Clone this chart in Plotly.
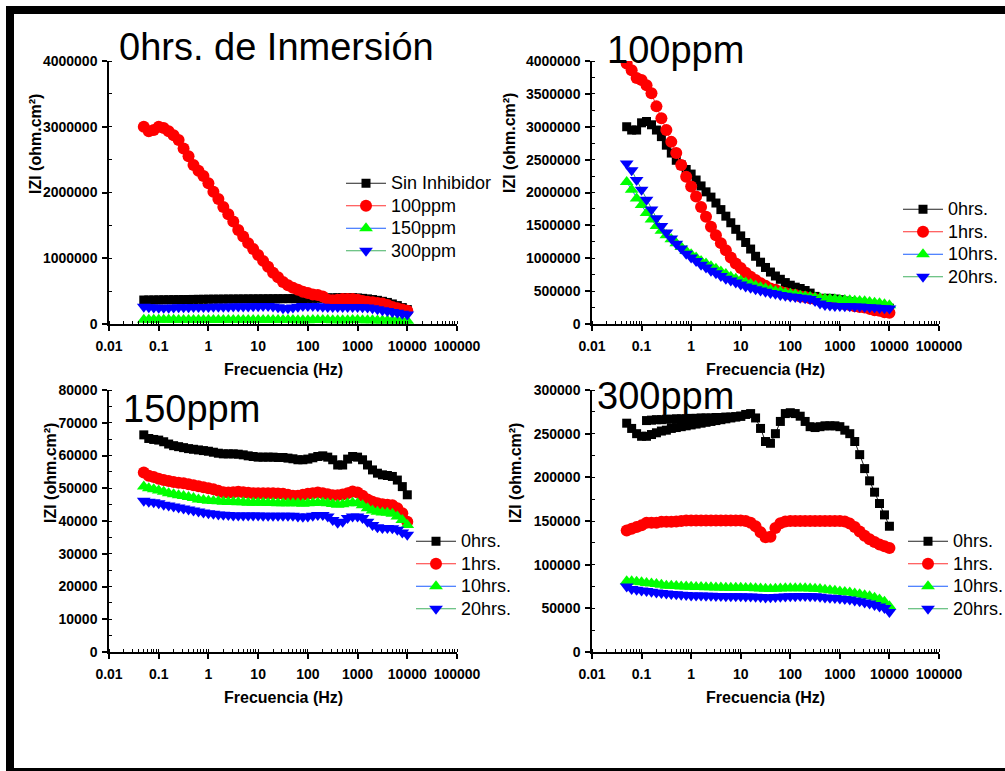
import plotly.graph_objects as go

W, H = 1005, 771

# ---------------- data ----------------
freq = [0.0501, 0.0631, 0.0794, 0.1, 0.1259, 0.1585, 0.1995, 0.2512, 0.3162, 0.3981,
        0.5012, 0.631, 0.7943, 1.0, 1.259, 1.585, 1.995, 2.512, 3.162, 3.981,
        5.012, 6.31, 7.943, 10.0, 12.59, 15.85, 19.95, 25.12, 31.62, 39.81,
        50.12, 63.1, 79.43, 100.0, 125.9, 158.5, 199.5, 251.2, 316.2, 398.1,
        501.2, 631.0, 794.3, 1000.0, 1259, 1585, 1995, 2512, 3162, 3981,
        5012, 6310, 7943, 10000]

x_tick_vals = [0.01, 0.1, 1, 10, 100, 1000, 10000, 100000]
x_tick_text = ["0.01", "0.1", "1", "10", "100", "1000", "10000", "100000"]

# Panel 1: 0 hrs de inmersion
p1_sin_inhibidor = [365000, 365000, 366000, 367000, 368000, 369000, 370000, 371000, 372000, 373000,
                    374000, 375000, 376000, 377000, 378000, 378000, 379000, 380000, 380000, 381000,
                    381000, 382000, 382000, 383000, 383000, 384000, 384000, 385000, 385000, 386000,
                    386000, 387000, 388000, 389000, 390000, 392000, 394000, 396000, 398000, 400000,
                    401000, 402000, 400000, 396000, 390000, 382000, 372000, 360000, 345000, 328000,
                    305000, 280000, 250000, 220000]
p1_100ppm = [3000000, 2930000, 2950000, 3000000, 2980000, 2930000, 2870000, 2800000, 2670000, 2550000,
             2420000, 2330000, 2250000, 2140000, 2010000, 1900000, 1780000, 1670000, 1560000, 1430000,
             1330000, 1230000, 1140000, 1050000, 960000, 870000, 780000, 710000, 640000, 590000,
             550000, 520000, 490000, 470000, 450000, 440000, 420000, 370000, 360000, 370000,
             380000, 380000, 380000, 370000, 350000, 340000, 330000, 320000, 310000, 290000,
             260000, 240000, 220000, 200000]

# Panel 2: 100 ppm
p2_0h = [3000000, 2950000, 2950000, 3060000, 3080000, 3030000, 2950000, 2850000, 2720000, 2600000,
         2490000, 2420000, 2350000, 2280000, 2190000, 2100000, 2010000, 1930000, 1840000, 1740000,
         1640000, 1540000, 1440000, 1340000, 1240000, 1140000, 1030000, 940000, 860000, 790000,
         730000, 680000, 630000, 590000, 560000, 540000, 510000, 470000, 420000, 390000,
         390000, 390000, 380000, 370000, 350000, 340000, 330000, 310000, 300000, 290000,
         270000, 260000, 250000, 240000]
p2_1h = [3960000, 3860000, 3740000, 3710000, 3630000, 3510000, 3310000, 3130000, 2950000, 2770000,
         2600000, 2420000, 2240000, 2090000, 1940000, 1780000, 1630000, 1480000, 1350000, 1230000,
         1120000, 1010000, 920000, 850000, 780000, 720000, 670000, 620000, 580000, 540000,
         520000, 490000, 470000, 450000, 440000, 420000, 410000, 390000, 380000, 370000,
         350000, 340000, 320000, 310000, 300000, 290000, 270000, 260000, 250000, 230000,
         210000, 200000, 180000, 170000]
p2_10h = [2160000, 2040000, 1910000, 1810000, 1690000, 1590000, 1490000, 1420000, 1350000, 1290000,
          1230000, 1170000, 1110000, 1060000, 1010000, 960000, 920000, 880000, 840000, 800000,
          760000, 720000, 690000, 660000, 630000, 610000, 580000, 560000, 540000, 520000,
          500000, 490000, 470000, 460000, 450000, 430000, 420000, 410000, 400000, 390000,
          385000, 380000, 375000, 370000, 365000, 360000, 355000, 350000, 345000, 335000,
          325000, 315000, 300000, 285000]
p2_20h = [2440000, 2340000, 2190000, 2040000, 1890000, 1740000, 1610000, 1490000, 1390000, 1300000,
          1220000, 1150000, 1070000, 1010000, 960000, 900000, 860000, 810000, 770000, 730000,
          690000, 660000, 630000, 600000, 570000, 550000, 530000, 510000, 490000, 470000,
          460000, 440000, 430000, 420000, 410000, 400000, 390000, 380000, 350000, 310000,
          290000, 280000, 275000, 272000, 270000, 270000, 268000, 265000, 260000, 255000,
          250000, 245000, 240000, 235000]

# Panel 3: 150 ppm
p3_0h = [66300, 65200, 64900, 64700, 64200, 63500, 63000, 62700, 62400, 62100,
         61900, 61700, 61500, 61300, 61000, 60700, 60500, 60500, 60500, 60400,
         60200, 59900, 59700, 59500, 59500, 59500, 59500, 59400, 59400, 59200,
         59000, 58700, 58700, 58900, 59300, 59700, 59900, 59500, 58700, 57100,
         57100, 58900, 59700, 59500, 58700, 57100, 55600, 54600, 54100, 53900,
         53600, 52500, 50500, 48000]
p3_1h = [54800, 53800, 53400, 52900, 52500, 52200, 51900, 51700, 51500, 51200,
         50900, 50600, 50300, 50000, 49700, 49200, 48800, 48700, 48800, 48900,
         48800, 48600, 48500, 48500, 48500, 48500, 48500, 48400, 48300, 48000,
         47700, 47700, 48000, 48300, 48500, 48700, 48500, 48200, 47900, 47900,
         48100, 48500, 49000, 48700, 47700, 46600, 45900, 45400, 45100, 45000,
         44800, 43900, 42400, 39800]
p3_10h = [50500, 50000, 49700, 49300, 48900, 48500, 48200, 47900, 47600, 47300,
          47000, 46600, 46400, 46200, 46100, 46000, 45900, 45800, 45800, 45700,
          45700, 45600, 45600, 45600, 45600, 45500, 45500, 45400, 45400, 45400,
          45400, 45400, 45300, 45400, 45500, 45600, 45600, 45400, 45200, 45000,
          45100, 45400, 45600, 45400, 44800, 43900, 43200, 42800, 42600, 42500,
          42200, 41400, 40300, 38800]
p3_20h = [46200, 45900, 45700, 45400, 45000, 44700, 44400, 44100, 43800, 43500,
          43200, 42900, 42600, 42400, 42200, 42000, 41900, 41800, 41700, 41700,
          41700, 41700, 41700, 41700, 41600, 41600, 41600, 41600, 41600, 41600,
          41600, 41400, 41300, 41400, 41600, 41800, 41800, 41400, 40300, 39500,
          39800, 40900, 41400, 41400, 40900, 39800, 38800, 38100, 37900, 37900,
          37800, 37300, 36500, 35800]

# Panel 4: 300 ppm
p4_0h = [262000, 256000, 250000, 247000, 247000, 249000, 251000, 253000, 254000, 256000,
         257000, 258000, 259000, 260000, 261000, 262000, 263000, 264000, 265000, 266000,
         267000, 268000, 269000, 270000, 272000, 273000, 268000, 256000, 241000, 239000,
         250000, 264000, 273000, 274000, 273000, 270000, 264000, 258000, 257000, 258000,
         259000, 259000, 259000, 258000, 254000, 250000, 241000, 226000, 210000, 196000,
         183000, 170000, 157000, 144000]
p4_0h_extra_freq = [0.1259, 0.1585, 0.1995, 0.2512, 0.3162, 0.3981, 0.5012, 0.631, 0.7943, 1.0,
                    1.259, 1.585, 1.995, 2.512, 3.162, 3.981, 5.012, 6.31, 7.943, 10.0]
p4_0h_extra = [265000, 265500, 266000, 266000, 266500, 266500, 267000, 267000, 267000, 267500,
               267500, 268000, 268000, 268000, 268500, 268500, 269000, 269000, 269500, 270000]
p4_1h = [139000, 141000, 143000, 145000, 148000, 148000, 148000, 149000, 149000, 149000,
         149500, 150000, 150500, 150500, 150500, 150500, 150500, 150500, 150500, 150500,
         150500, 150500, 150500, 150500, 150000, 148000, 144000, 137000, 131500, 132000,
         142000, 147500, 149500, 150000, 150000, 150000, 150000, 150000, 150000, 150000,
         150000, 150000, 150000, 150000, 149500, 147000, 143000, 138000, 133000, 129000,
         126000, 123000, 121000, 119000]
p4_10h = [81000, 81000, 80500, 80000, 79000, 78500, 78000, 77000, 76000, 76000,
          75500, 75000, 75000, 74700, 74500, 74300, 74100, 74000, 73900, 73800,
          73700, 73600, 73500, 73500, 73400, 73200, 73000, 72700, 72300, 72000,
          72500, 72800, 73000, 73000, 73000, 73000, 73000, 72800, 72500, 72000,
          71300, 70700, 70000, 69400, 68700, 68000, 67000, 66000, 65000, 63800,
          62000, 60000, 57500, 52500]
p4_20h = [75000, 72000, 71300, 70500, 69800, 69000, 68200, 67500, 67100, 66300,
          66000, 65600, 65200, 64800, 64700, 64600, 64400, 64300, 64200, 64000,
          63900, 63800, 63700, 63700, 63600, 63500, 63300, 63000, 62500, 62600,
          62900, 63300, 63500, 63700, 63900, 64000, 64000, 63800, 63700, 63400,
          62500, 62200, 61800, 61400, 60800, 60000, 59000, 58000, 56800, 55500,
          53800, 52000, 50300, 45700]

panel_titles = ["0hrs. de Inmersión", "100ppm", "150ppm", "300ppm"]
names_p1 = ["Sin Inhibidor", "100ppm", "150ppm", "300ppm"]
names_t = ["0hrs.", "1hrs.", "10hrs.", "20hrs."]
x_title = "Frecuencia (Hz)"
y_title = "IZI (ohm.cm²)"

panel_series = [
    [p1_sin_inhibidor, p1_100ppm, p3_0h, p4_0h],
    [p2_0h, p2_1h, p2_10h, p2_20h],
    [p3_0h, p3_1h, p3_10h, p3_20h],
    [p4_0h, p4_1h, p4_10h, p4_20h],
]
panel_names = [names_p1, names_t, names_t, names_t]
y_max = [4000000, 4000000, 80000, 300000]
y_dtick = [1000000, 500000, 10000, 50000]

# ---------------- styles ----------------
styles = [
    dict(symbol="square", mcolor="#000000", lcolor="#222222", size=9),
    dict(symbol="circle", mcolor="#ff0000", lcolor="#ff3030", size=12),
    dict(symbol="triangle-up", mcolor="#00ff00", lcolor="#1a5cff", size=12),
    dict(symbol="triangle-down", mcolor="#0000ff", lcolor="#40b060", size=12),
]

FONT = "Liberation Sans, Arial, sans-serif"

def px(x):
    return x / W

def py(y):
    return 1 - y / H

plot_x = [(109, 457), (592, 939), (109, 457), (592, 939)]
plot_y = [(61, 324), (61, 324), (390, 652), (390, 652)]
legend_pos = [(341, 167), (898, 193), (411, 525), (903, 525)]
title_pos = [(117, 47), (605, 50), (121, 409), (595, 396)]
ytitle_pos = [(35, 144), (509, 143), (50, 473), (515, 473)]
xtitle_pos = [(283, 369), (765, 369), (283, 697), (765, 697)]

fig = go.Figure()
layout = dict(
    width=W, height=H, autosize=False,
    margin=dict(l=0, r=0, t=0, b=0, pad=0, autoexpand=False),
    paper_bgcolor="white", plot_bgcolor="white",
    font=dict(family=FONT, color="black"),
    annotations=[], shapes=[],
)

for p in range(4):
    sfx = "" if p == 0 else str(p + 1)
    xa, ya = "x" + sfx, "y" + sfx
    lg = "legend" + sfx
    for s in range(4):
        st = styles[s]
        fig.add_trace(go.Scatter(
            x=freq, y=panel_series[p][s], xaxis=xa, yaxis=ya,
            mode="lines+markers",
            name='<span style="font-size:18px">' + panel_names[p][s] + '</span>',
            legend=lg,
            line=dict(color=st["lcolor"], width=1),
            marker=dict(symbol=st["symbol"], color=st["mcolor"], size=st["size"],
                        line=dict(width=0)),
        ))
        if p == 3 and s == 0:
            fig.add_trace(go.Scatter(
                x=p4_0h_extra_freq, y=p4_0h_extra, xaxis=xa, yaxis=ya,
                mode="lines+markers", showlegend=False,
                line=dict(color=st["lcolor"], width=1),
                marker=dict(symbol=st["symbol"], color=st["mcolor"], size=st["size"],
                            line=dict(width=0)),
            ))
    x0, x1 = plot_x[p]
    y0, y1 = plot_y[p]
    layout["xaxis" + sfx] = dict(
        type="log", range=[-2, 5], domain=[px(x0), px(x1)], anchor=ya,
        showline=True, linecolor="black", linewidth=1.5,
        ticks="outside", ticklen=5, tickwidth=1.5, tickcolor="black",
        tickmode="array", tickvals=x_tick_vals, ticktext=x_tick_text, tickangle=0,
        showgrid=False, zeroline=False, automargin=False,
        tickfont=dict(family=FONT, size=14, color="black", weight="bold"),
        ticklabelstandoff=3,
        minor=dict(ticks="inside", ticklen=3, tickwidth=1, tickcolor="black",
                   dtick="D1", showgrid=False),
    )
    layout["yaxis" + sfx] = dict(
        range=[0, y_max[p]], domain=[py(y1), py(y0)], anchor=xa,
        showline=True, linecolor="black", linewidth=1.5,
        ticks="outside", ticklen=5, tickwidth=1.5, tickcolor="black",
        dtick=y_dtick[p], tickformat="d", showgrid=False, zeroline=False,
        automargin=False,
        tickfont=dict(family=FONT, size=14, color="black", weight="bold"),
        ticklabelstandoff=2,
        minor=dict(ticks="inside", ticklen=3, tickwidth=1, tickcolor="black",
                   dtick=y_dtick[p] / 2, showgrid=False),
    )
    lx, ly = legend_pos[p]
    layout[lg] = dict(
        x=px(lx), y=py(ly), xanchor="left", yanchor="top",
        xref="paper", yref="paper",
        bgcolor="rgba(0,0,0,0)", borderwidth=0, itemwidth=40,
        font=dict(family=FONT, size=15, color="black"),
        tracegroupgap=0, itemclick=False,
    )
    tx, ty = title_pos[p]
    layout["annotations"].append(dict(
        text=panel_titles[p], x=px(tx), y=py(ty), xref="paper", yref="paper",
        xanchor="left", yanchor="middle", showarrow=False,
        font=dict(family=FONT, size=38, color="black"),
    ))
    yx, yy = ytitle_pos[p]
    layout["annotations"].append(dict(
        text=y_title, x=px(yx), y=py(yy), xref="paper", yref="paper",
        xanchor="center", yanchor="middle", showarrow=False, textangle=-90,
        font=dict(family=FONT, size=16, color="black", weight="bold"),
    ))
    xx, xy = xtitle_pos[p]
    layout["annotations"].append(dict(
        text=x_title, x=px(xx), y=py(xy), xref="paper", yref="paper",
        xanchor="center", yanchor="middle", showarrow=False,
        font=dict(family=FONT, size=16, color="black", weight="bold"),
    ))

# black frame around the figure
for (bx0, by0, bx1, by1) in [(6, 6, 1005, 14), (6, 6, 14, 771), (6, 768, 1005, 771)]:
    layout["shapes"].append(dict(
        type="rect", xref="paper", yref="paper",
        x0=px(bx0), x1=px(bx1), y0=py(by1), y1=py(by0),
        fillcolor="black", line=dict(width=0), layer="above",
    ))

fig.update_layout(**layout)
fig.write_html("out.html")
